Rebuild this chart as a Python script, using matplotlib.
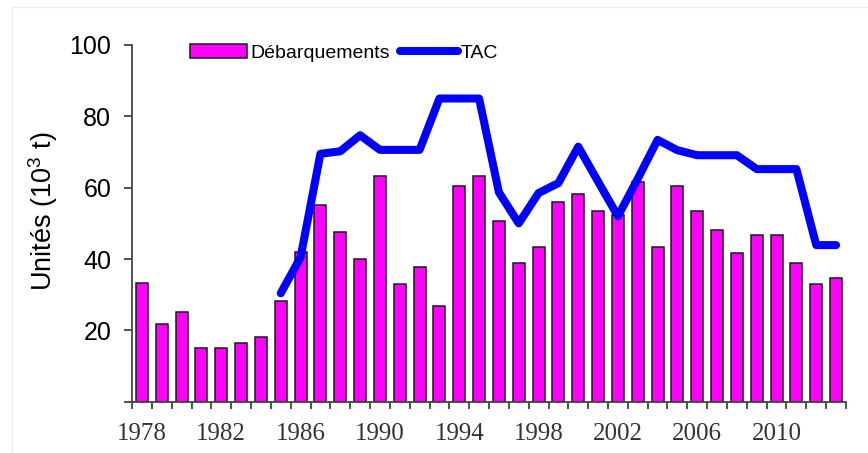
import numpy as np
import matplotlib
matplotlib.use("Agg")
import matplotlib.pyplot as plt
from matplotlib.lines import Line2D

plt.rcParams['font.family'] = ['Liberation Sans', 'DejaVu Sans']
plt.rcParams['mathtext.fontset'] = 'custom'
plt.rcParams['mathtext.rm'] = 'Liberation Sans'

years = list(range(1978, 2014))
landings = [33.4, 21.8, 25.2, 15.1, 15.1, 16.5, 18.2, 28.3, 42.1, 55.2,
            47.7, 39.9, 63.4, 32.9, 37.7, 26.9, 60.5, 63.4, 50.7, 38.8,
            43.5, 55.9, 58.2, 53.5, 52.3, 61.7, 43.4, 60.4, 53.5, 48.1,
            41.6, 46.7, 46.7, 38.8, 32.9, 34.7]
tac_years = list(range(1985, 2014))
tac = [30.4, 40.5, 69.5, 70.2, 74.7, 70.6, 70.6, 70.6, 85.0, 85.0,
       85.0, 58.7, 50.0, 58.5, 61.3, 71.5, 61.7, 52.0, 62.5, 73.4,
       70.5, 69.1, 69.1, 69.1, 65.2, 65.2, 65.2, 43.9, 43.9]
label_years = list(range(1978, 2011, 4))
yticks = [0, 20, 40, 60, 80, 100]

W, H = 868, 453
fig = plt.figure(figsize=(W / 100, H / 100), dpi=100)
ax_w = 846 - 132
ax_h = 401.7 - 45
ax = fig.add_axes([132 / W, 1 - 401.7 / H, ax_w / W, ax_h / H])

x = np.arange(len(years))
bars = ax.bar(x, landings, width=0.6, color='#FF00FF', edgecolor='#1a1a1a',
              linewidth=1.1, label='Débarquements', zorder=2)
tx = np.array([years.index(y) for y in tac_years])
line, = ax.plot(tx, tac, color='#0000FF', linewidth=5.8, solid_capstyle='round',
                solid_joinstyle='round', label='TAC', zorder=3)

ax.set_xlim(-0.5, len(years) - 0.5)
ax.set_ylim(0, 100)

for s in ['top', 'right']:
    ax.spines[s].set_visible(False)
for s in ['left', 'bottom']:
    ax.spines[s].set_color('#444444')
    ax.spines[s].set_linewidth(1.3)

ax.set_yticks(yticks)
ax.set_yticklabels(['' if v == 0 else str(v) for v in yticks])
ax.tick_params(axis='y', direction='out', length=6, width=1.3, color='#444444',
               pad=9, labelsize=18)

lx = [years.index(y) for y in label_years]
ax.set_xticks(lx)
ax.set_xticklabels([str(y) for y in label_years], fontfamily='Liberation Serif',
                   fontsize=18, color='#333333')
ax.tick_params(axis='x', which='major', length=0, pad=15)
ax.set_xticks(np.arange(len(years) + 1) - 0.5, minor=True)
ax.tick_params(axis='x', which='minor', direction='out', length=5, width=1.3,
               color='#444444')

ax.set_ylabel(r'Unités (10$^{\mathregular{3}}$ t)', fontsize=19.5)
ax.yaxis.set_label_coords((60 - 132) / ax_w, 0.5 + 12 / ax_h)

ax.legend(handles=[bars, line], labels=['Débarquements', 'TAC'],
          loc='upper left', bbox_to_anchor=(190 / W, 1 - 44 / H),
          bbox_transform=fig.transFigure, ncol=2, frameon=False,
          fontsize=14, handlelength=2.95, handletextpad=0.15,
          columnspacing=0.55, borderpad=0, borderaxespad=0)

fig.add_artist(Line2D([12 / W, 1], [1 - 7 / H, 1 - 7 / H], color='#eeeeee',
                      linewidth=1, transform=fig.transFigure))
fig.add_artist(Line2D([12 / W, 12 / W], [0, 1 - 7 / H], color='#eeeeee',
                      linewidth=1, transform=fig.transFigure))

fig.savefig('out.png', dpi=100)
